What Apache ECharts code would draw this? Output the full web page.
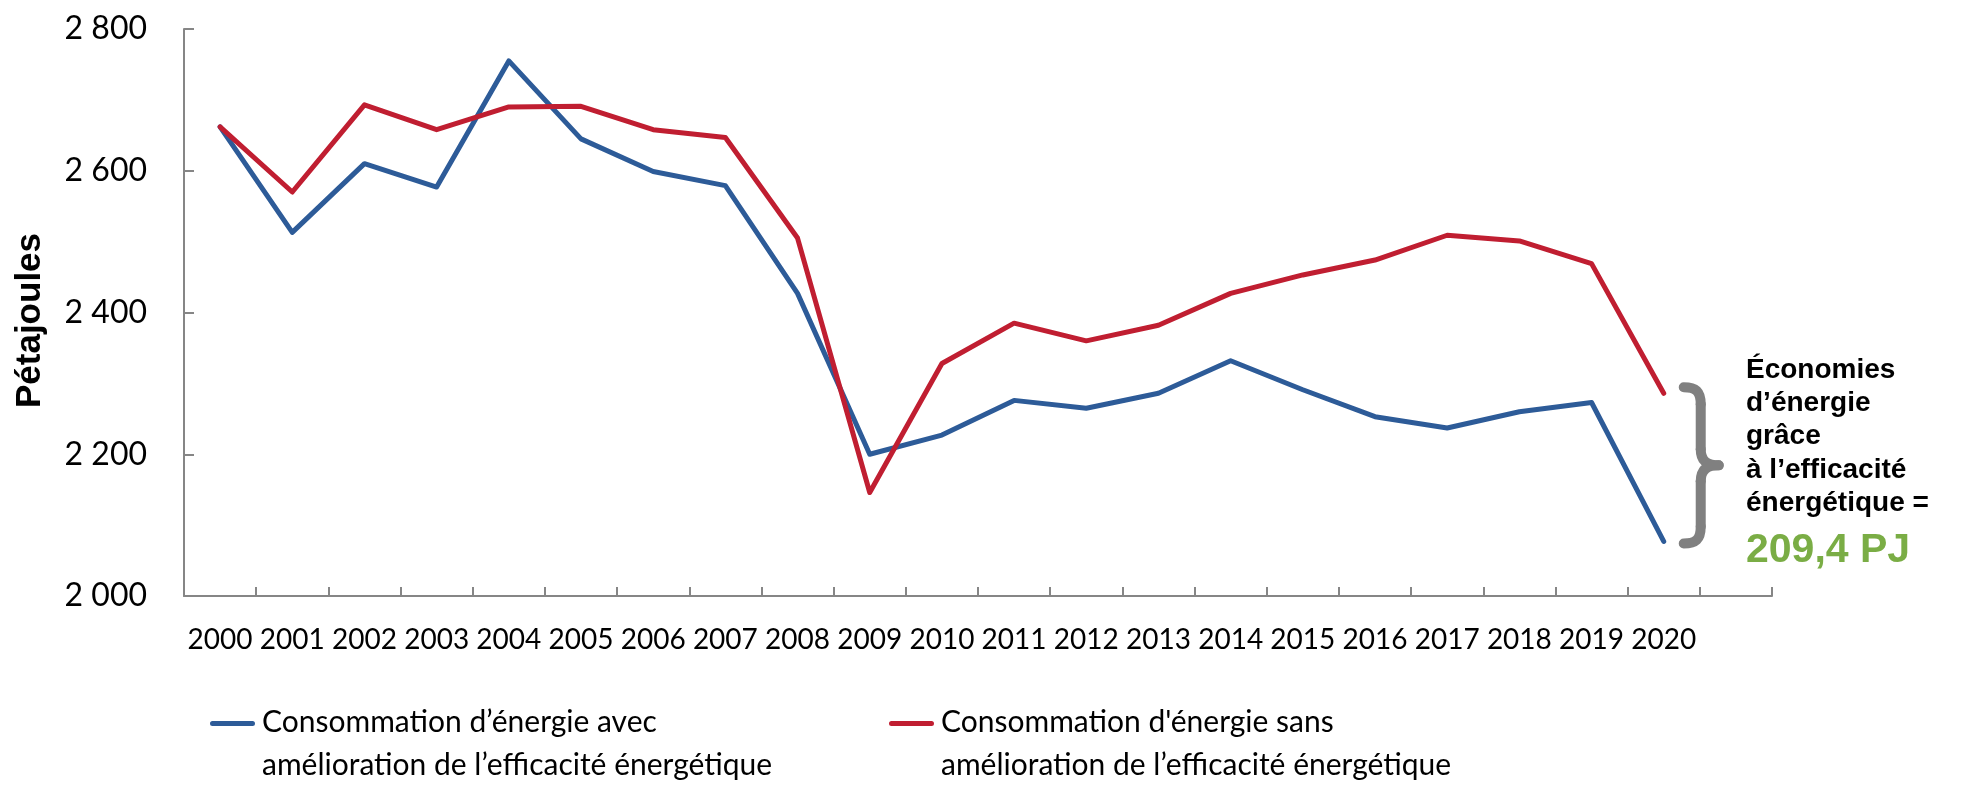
<!DOCTYPE html>
<html>
<head>
<meta charset="utf-8">
<script src="https://cdn.jsdelivr.net/npm/echarts@6/dist/echarts.min.js"></script>
<style>
html,body{margin:0;padding:0;background:#fff;}
#chart{width:1983px;height:805px;}
</style>
</head>
<body>
<div id="chart"></div>
<script>
const categories = ['2000','2001','2002','2003','2004','2005','2006','2007','2008','2009','2010','2011','2012','2013','2014','2015','2016','2017','2018','2019','2020',''];
const avecAmelioration = [2662, 2513, 2610, 2577, 2755, 2645, 2599, 2579, 2427, 2200, 2227, 2276, 2265, 2286, 2332, 2291, 2253, 2237, 2260, 2273, 2077];
const sansAmelioration = [2662, 2570, 2693, 2658, 2690, 2691, 2658, 2647, 2505, 2146, 2328, 2385, 2360, 2382, 2427, 2453, 2474, 2509, 2501, 2469, 2286];
const yTickLabels = ['2 000', '2 200', '2 400', '2 600', '2 800'];
const seriesNames = [
  'Consommation d\u2019énergie avec\namélioration de l\u2019efficacité énergétique',
  'Consommation d\'énergie sans\namélioration de l\u2019efficacité énergétique'
];
const annotationLines = ['Économies', 'd\u2019énergie', 'grâce', 'à l\u2019efficacité', 'énergétique ='];
const annotationValue = '209,4 PJ';

(function () {
const BLUE = '#2D5B98';
const RED = '#C01E31';
const GREEN = '#7AAD45';
const AXIS = '#868686';
const BRACE = '#808080';
const LATO = "Lato, 'Open Sans', sans-serif";
const ARIAL = "'Liberation Sans', Arial, sans-serif";

// rounded line at the top of the icon box, zero-area stroke-free marker at the bottom to fix the box height
const legendIcon = 'path://M2.5,1.5H42.5A2.5,2.5 0 0 1 42.5,6.5H2.5A2.5,2.5 0 0 1 2.5,1.5Z M0,0L45,0Z M0,49L45,49Z';

const chart = echarts.init(document.getElementById('chart'), null, {renderer: 'canvas'});
chart.setOption({
  animation: false,
  backgroundColor: '#fff',
  grid: {left: 184, right: 211, top: 29, bottom: 209, containLabel: false, outerBoundsMode: 'none'},
  xAxis: {
    type: 'category',
    data: categories,
    boundaryGap: true,
    axisLine: {show: true, lineStyle: {color: AXIS, width: 2}},
    axisTick: {show: true, inside: true, length: 9, interval: 0, alignWithLabel: false, lineStyle: {color: AXIS, width: 2}},
    axisLabel: {interval: 0, fontFamily: LATO, fontSize: 28, color: '#000', margin: 30},
    splitLine: {show: false}
  },
  yAxis: {
    type: 'value',
    min: 2000, max: 2800, interval: 200,
    name: 'Pétajoules',
    nameLocation: 'middle',
    nameRotate: 90,
    nameGap: 136,
    nameTextStyle: {fontFamily: ARIAL, fontWeight: 'bold', fontSize: 35, color: '#000', padding: [0, 16, 0, 0]},
    axisLine: {show: true, lineStyle: {color: AXIS, width: 2}},
    axisTick: {show: true, inside: true, length: 10, lineStyle: {color: AXIS, width: 2}},
    axisLabel: {
      fontFamily: LATO, fontSize: 32, color: '#000', margin: 37,
      formatter: function (v, i) { return yTickLabels[i]; }
    },
    splitLine: {show: false}
  },
  legend: [
    {
      left: 210, top: 701, padding: 0,
      itemWidth: 45, itemHeight: 49, symbolKeepAspect: false,
      itemStyle: {borderWidth: 0},
      data: [{name: seriesNames[0], icon: legendIcon}],
      textStyle: {fontFamily: LATO, fontSize: 30, lineHeight: 43, color: '#000', padding: [0, 0, 0, 2]}
    },
    {
      left: 889, top: 701, padding: 0,
      itemWidth: 45, itemHeight: 49, symbolKeepAspect: false,
      itemStyle: {borderWidth: 0},
      data: [{name: seriesNames[1], icon: legendIcon}],
      textStyle: {fontFamily: LATO, fontSize: 30, lineHeight: 43, color: '#000', padding: [0, 0, 0, 2]}
    }
  ],
  series: [
    {
      name: seriesNames[0], type: 'line', data: avecAmelioration,
      symbol: 'none', color: BLUE,
      itemStyle: {color: BLUE},
      lineStyle: {color: BLUE, width: 5, join: 'round', cap: 'round'}
    },
    {
      name: seriesNames[1], type: 'line', data: sansAmelioration,
      symbol: 'none', color: RED,
      itemStyle: {color: RED},
      lineStyle: {color: RED, width: 5, join: 'round', cap: 'round'}
    }
  ]
});

// Brace and annotation anchored on the 2020 values
const last = avecAmelioration.length - 1;
const xp = chart.convertToPixel({xAxisIndex: 0}, last);
const yRed = chart.convertToPixel({yAxisIndex: 0}, sansAmelioration[last]);
const yBlue = chart.convertToPixel({yAxisIndex: 0}, avecAmelioration[last]);
const bTop = yRed - 10.5, bBot = yBlue + 6.5;
const x0 = xp + 20;
const t = bTop + 4.5, b = bBot - 4.5, m = (t + b) / 2, xs = x0 + 17, xm = x0 + 35;
const braceStyle = {stroke: BRACE, lineWidth: 10, lineCap: 'round', fill: 'none'};

function bez(id, x1, y1, cx1, cy1, cx2, cy2, x2, y2) {
  return {id: id, type: 'bezierCurve',
    shape: {x1: x1, y1: y1, x2: x2, y2: y2, cpx1: cx1, cpy1: cy1, cpx2: cx2, cpy2: cy2},
    style: braceStyle};
}
function seg(id, x1, y1, x2, y2) {
  return {id: id, type: 'line', shape: {x1: x1, y1: y1, x2: x2, y2: y2}, style: braceStyle};
}

chart.setOption({
  graphic: [
    bez('b1', x0, t, x0 + 12, t, xs, t + 4, xs, t + 17),
    seg('b2', xs, t + 17, xs, m - 16),
    bez('b3', xs, m - 16, xs, m - 4, xs + 7, m, xm, m),
    bez('b4', xm, m, xs + 7, m, xs, m + 4, xs, m + 16),
    seg('b5', xs, m + 16, xs, b - 17),
    bez('b6', xs, b - 17, xs, b - 4, x0 + 12, b, x0, b),
    {
      id: 'annot', type: 'text', x: 1746, y: 353.5,
      style: {
        text: annotationLines.join('\n'),
        fontFamily: ARIAL, fontWeight: 'bold', fontSize: 28, lineHeight: 33.3,
        fill: '#000', align: 'left', verticalAlign: 'top'
      }
    },
    {
      id: 'value', type: 'text', x: 1746, y: 550.6,
      style: {
        text: annotationValue,
        fontFamily: ARIAL, fontWeight: 'bold', fontSize: 41,
        fill: GREEN, align: 'left', verticalAlign: 'middle'
      }
    }
  ]
});
})();
</script>
</body>
</html>
